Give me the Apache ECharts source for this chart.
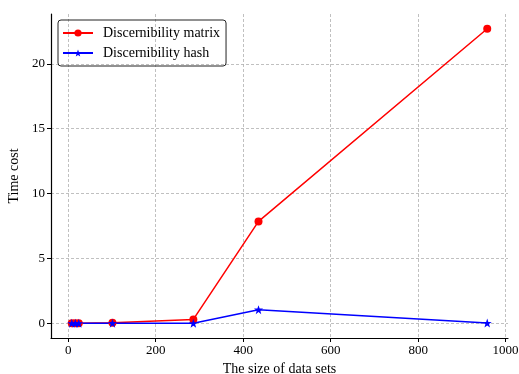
<!DOCTYPE html>
<html>
<head>
<meta charset="utf-8">
<script src="https://cdn.jsdelivr.net/npm/echarts@6/dist/echarts.min.js"></script>
<style>
  html, body { margin: 0; padding: 0; background: #fff; }
  #chart { width: 519px; height: 374px; }
</style>
</head>
<body>
<div id="chart"></div>
<script>
// data
const sizes = [8, 16, 24, 101, 286, 435, 958];
const matrixCost = [0.0, 0.0, 0.0, 0.05, 0.3, 7.85, 22.7];
const hashCost = [0.0, 0.0, 0.0, 0.01, 0.0, 1.05, 0.02];
const xTicks = [0, 200, 400, 600, 800, 1000];
const yTicks = [0, 5, 10, 15, 20];

const font = '"Liberation Serif", "DejaVu Serif", serif';
const star = 'path://M0,-10 L2.35,-3.24 L9.51,-3.09 L3.8,1.24 L5.88,8.09 L0,4 L-5.88,8.09 L-3.8,1.24 L-9.51,-3.09 L-2.35,-3.24 Z';

const pairs = (xs, ys) => xs.map((x, i) => [x, ys[i]]);

const gridLine = { show: true, lineStyle: { color: '#b0b0b0', type: [3, 2], width: 0.8 } };

const chart = echarts.init(document.getElementById('chart'));
chart.setOption({
  animation: false,
  textStyle: { fontFamily: font },
  grid: { left: 51, right: 11, top: 14, bottom: 36, outerBoundsMode: 'none', containLabel: false },
  legend: {
    left: 58, top: 20,
    orient: 'vertical',
    borderColor: '#222', borderWidth: 1, borderRadius: 3,
    padding: [6, 6, 6, 4],
    itemGap: 6,
    itemWidth: 30, itemHeight: 9,
    textStyle: { fontFamily: font, fontSize: 14, color: '#000', padding: [0, 0, 0, 5] },
    data: ['Discernibility matrix', 'Discernibility hash']
  },
  xAxis: {
    type: 'value',
    min: -39.5, max: 1005.5,
    name: 'The size of data sets',
    nameLocation: 'middle', nameGap: 24,
    nameTextStyle: { fontFamily: font, fontSize: 14, color: '#000' },
    axisLine: { onZero: false, lineStyle: { color: '#000', width: 1.2 } },
    axisTick: { show: true, length: 4, customValues: xTicks, lineStyle: { color: '#000' } },
    axisLabel: {
      customValues: xTicks, fontSize: 13, color: '#000', margin: 6, fontFamily: font,
      formatter: v => String(v)
    },
    splitLine: gridLine
  },
  yAxis: {
    type: 'value',
    min: -1.135, max: 23.84,
    name: 'Time cost',
    nameLocation: 'middle', nameGap: 28,
    nameTextStyle: { fontFamily: font, fontSize: 14, color: '#000' },
    axisLine: { show: true, onZero: false, lineStyle: { color: '#000', width: 1.2 } },
    axisTick: { show: true, length: 4, customValues: yTicks, lineStyle: { color: '#000' } },
    axisLabel: { customValues: yTicks, fontSize: 13, color: '#000', margin: 6, fontFamily: font },
    splitLine: gridLine
  },
  series: [
    {
      name: 'Discernibility matrix',
      type: 'line',
      data: pairs(sizes, matrixCost),
      color: '#ff0000',
      symbol: 'circle', symbolSize: 8,
      lineStyle: { width: 1.5 }
    },
    {
      name: 'Discernibility hash',
      type: 'line',
      data: pairs(sizes, hashCost),
      color: '#0000ff',
      symbol: star, symbolSize: 9,
      lineStyle: { width: 1.5 }
    }
  ]
});
</script>
</body>
</html>
